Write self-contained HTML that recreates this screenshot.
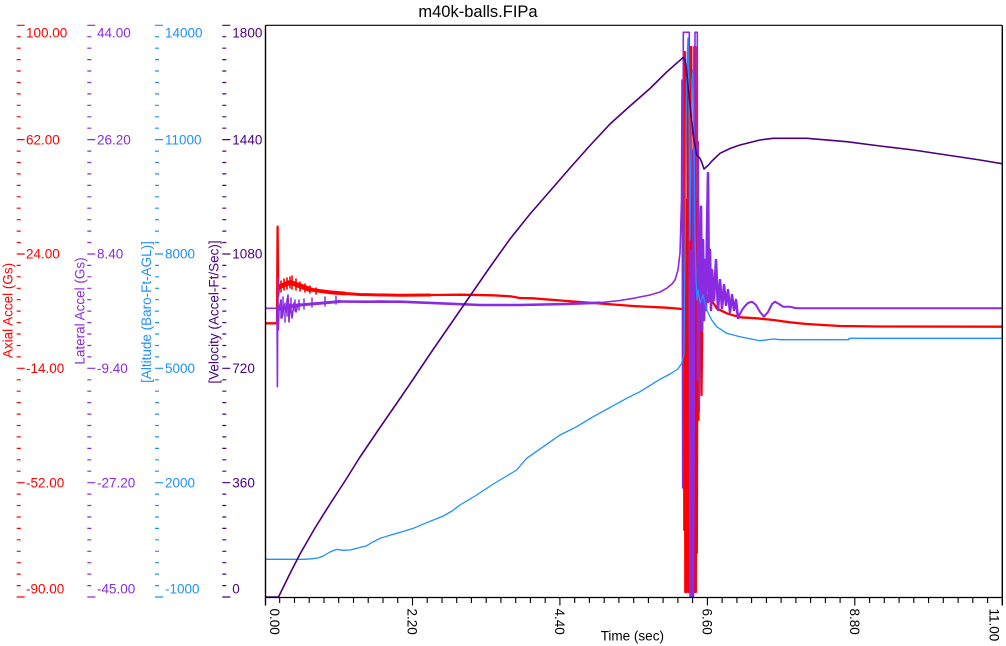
<!DOCTYPE html>
<html>
<head>
<meta charset="utf-8">
<style>
  html,body{margin:0;padding:0;background:#fff;}
  svg{display:block;}
  text{font-family:"Liberation Sans",Arial,sans-serif;}
</style>
</head>
<body>
<svg width="1006" height="646" viewBox="0 0 1006 646" xmlns="http://www.w3.org/2000/svg">
  <defs>
    <g id="yt" fill="none" stroke="currentColor" stroke-width="1.2">
      <path d="M0 25.3h8M0 139.6h8M0 254h8M0 368.3h8M0 482.7h8M0 597h8"/>
      <path d="M0 36.7h4M0 48.2h4M0 59.6h4M0 71h4M0 82.5h4M0 93.9h4M0 105.3h4M0 116.8h4M0 128.2h4M0 151.1h4M0 162.5h4M0 173.9h4M0 185.4h4M0 196.8h4M0 208.2h4M0 219.7h4M0 231.1h4M0 242.5h4M0 265.4h4M0 276.8h4M0 288.3h4M0 299.7h4M0 311.1h4M0 322.6h4M0 334h4M0 345.5h4M0 356.9h4M0 379.8h4M0 391.2h4M0 402.6h4M0 414.1h4M0 425.5h4M0 436.9h4M0 448.4h4M0 459.8h4M0 471.2h4M0 494.1h4M0 505.5h4M0 517h4M0 528.4h4M0 539.8h4M0 551.3h4M0 562.7h4M0 574.1h4M0 585.6h4"/>
    </g>
    <clipPath id="pc"><rect x="266" y="25.8" width="736" height="571.7"/></clipPath>
  </defs>
  <rect width="1006" height="646" fill="#fff"/>

  <!-- Title -->
  <text x="478" y="17" font-size="16.5" text-anchor="middle" fill="#000">m40k-balls.FIPa</text>

  <!-- Left axes ticks -->
  <use href="#yt" x="16.7" y="0" style="color:#ff0000"/>
  <use href="#yt" x="87.3" y="0" style="color:#8a2be2"/>
  <use href="#yt" x="155" y="0" style="color:#1e90ff"/>
  <use href="#yt" x="222.3" y="0" style="color:#4b0082"/>

  <!-- Axial labels -->
  <g font-size="13.5" fill="#ff0000">
    <text x="26" y="37.3">100.00</text>
    <text x="26" y="144.3">62.00</text>
    <text x="26" y="258.6">24.00</text>
    <text x="26" y="372.9">-14.00</text>
    <text x="26" y="487.3">-52.00</text>
    <text x="26" y="593.3">-90.00</text>
    <text transform="translate(12.3,310.5) rotate(-90)" text-anchor="middle">Axial Accel (Gs)</text>
  </g>
  <g font-size="13.5" fill="#8a2be2">
    <text x="97" y="37.3">44.00</text>
    <text x="97" y="144.3">26.20</text>
    <text x="97" y="258.6">8.40</text>
    <text x="97" y="372.9">-9.40</text>
    <text x="97" y="487.3">-27.20</text>
    <text x="97" y="593.3">-45.00</text>
    <text transform="translate(84.3,311) rotate(-90)" text-anchor="middle">Lateral Accel (Gs)</text>
  </g>
  <g font-size="13.5" fill="#1e90ff">
    <text x="165" y="37.3">14000</text>
    <text x="165" y="144.3">11000</text>
    <text x="165" y="258.6">8000</text>
    <text x="165" y="372.9">5000</text>
    <text x="165" y="487.3">2000</text>
    <text x="165" y="593.3">-1000</text>
    <text transform="translate(151,312) rotate(-90)" text-anchor="middle">[Altitude (Baro-Ft-AGL)]</text>
  </g>
  <g font-size="13.5" fill="#4b0082">
    <text x="232.3" y="37.3">1800</text>
    <text x="232.3" y="144.3">1440</text>
    <text x="232.3" y="258.6">1080</text>
    <text x="232.3" y="372.9">720</text>
    <text x="232.3" y="487.3">360</text>
    <text x="232.3" y="593.3">0</text>
    <text transform="translate(218.5,312) rotate(-90)" text-anchor="middle">[Velocity (Accel-Ft/Sec)]</text>
  </g>

  <!-- X ticks -->
  <path fill="none" stroke="#000" stroke-width="1.1" d="M279.7 597.5v5.5M294.5 597.5v5.5M309.2 597.5v5.5M324 597.5v5.5M338.7 597.5v5.5M353.5 597.5v5.5M368.2 597.5v5.5M383 597.5v5.5M397.7 597.5v5.5M427.2 597.5v5.5M442 597.5v5.5M456.7 597.5v5.5M471.4 597.5v5.5M486.2 597.5v5.5M500.9 597.5v5.5M515.7 597.5v5.5M530.4 597.5v5.5M545.2 597.5v5.5M574.7 597.5v5.5M589.4 597.5v5.5M604.2 597.5v5.5M618.9 597.5v5.5M633.7 597.5v5.5M648.4 597.5v5.5M663.1 597.5v5.5M677.9 597.5v5.5M692.6 597.5v5.5M722.1 597.5v5.5M736.9 597.5v5.5M751.6 597.5v5.5M766.4 597.5v5.5M781.1 597.5v5.5M795.9 597.5v5.5M810.6 597.5v5.5M825.4 597.5v5.5M840.1 597.5v5.5M869.6 597.5v5.5M884.3 597.5v5.5M899.1 597.5v5.5M913.8 597.5v5.5M928.6 597.5v5.5M943.3 597.5v5.5M958.1 597.5v5.5M972.8 597.5v5.5M987.6 597.5v5.5"/>
  <path fill="none" stroke="#000" stroke-width="1.1" d="M412.5 597.5v8M559.9 597.5v8M707.4 597.5v8M854.8 597.5v8"/>

  <!-- X labels -->
  <g font-size="13.5" fill="#000">
    <text transform="translate(270.2,608.5) rotate(90)">0.00</text>
    <text transform="translate(407.6,608.5) rotate(90)">2.20</text>
    <text transform="translate(555,608.5) rotate(90)">4.40</text>
    <text transform="translate(702.5,608.5) rotate(90)">6.60</text>
    <text transform="translate(850,608.5) rotate(90)">8.80</text>
    <text transform="translate(989.5,608.5) rotate(90)">11.00</text>
    <text x="600.7" y="640.5">Time (sec)</text>
  </g>

  <!-- Data -->
  <g clip-path="url(#pc)" fill="none" stroke-linejoin="round" stroke-linecap="round">
    <!-- Axial accel (red) -->
    <g stroke="#ff0000">
      <polyline stroke-width="5" points="279,287 285,284.5 290,282.5 295,284 303,287 310,289.5"/>
      <polyline stroke-width="3.8" points="310,289.5 320,291 330,292.3 345,293.5"/>
      <polyline stroke-width="3" points="345,293.5 360,294.5 400,295.3 430,295"/>
      <path stroke-width="1.6" d="M281,281 L281,292 M284,279 L284,290 M287,278 L287,289 M290,277 L290,288 M292,276 L292,289 M296,279 L296,290 M300,282 L300,291 M305,284 L305,292 M310,286 L310,293 M316,288 L316,294"/>
      <path stroke-width="2.3" d="M265.7,323.3 L277,323.3 L277.6,226.7 L278.2,296 L279,287 L285,284.5 L290,282 L295,284 L303,287 L310,289.5 L320,291 L330,292.3 L345,293.5 L360,294.5 L400,295.3 L430,295 L460,294.7 L493.3,295.3 L510,296.3 L520,298 L533,298.3 L566.7,301 L600,303.5 L633,306 L666.7,307.7 L682.5,309 L683.3,309 L683.8,120 L684.3,530 L684.8,52 L685.3,592 L686.5,592 L686.8,200 L687.3,560 L687.8,52 L688.3,440 L688.8,592 L689.3,300 L689.8,592 L690.3,47 L690.8,592 L691.3,47 L691.8,500 L692.3,400 L692.8,592 L693.3,300 L693.8,550 L694.3,47 L694.8,592 L695.3,47 L695.8,592 L696.3,200 L696.8,553 L697.3,330 L698,250 L698.5,420 L699,280 L700,350 L700.5,290 L701.5,395 L702.5,300 L703.3,320 L704.5,296 L706.7,295 L708,302 L710,298 L713.3,303 L716.7,308.3 L726.7,313.3 L740,317.3 L756.7,318.3 L773.3,320 L790,322.3 L806.7,324 L840,326 L880,326.5 L1002,326.7"/>
    </g>
    <!-- Lateral accel (purple) -->
    <g stroke="#8a2be2">
      <polyline stroke-width="3.5" points="279,309 285,308 292,306 300,305"/>
      <polyline stroke-width="3" points="300,305 320,303.3 340,301.5"/>
      <polyline stroke-width="2.6" points="340,301.5 360,301.7 400,301.7 440,303.3 480,305 520,305 566.7,304 600,302.7"/>
      <path stroke-width="1.5" d="M281,300 L281,318 M283,297 L283,315 M285,303 L285,322 M287,299 L287,316 M291,298 L291,313 M295,300 L295,311 M299,300 L299,310 M304,299 L304,309 M312,298 L312,307 M325,297 L325,306 M336,296 L336,304"/>
      <path stroke-width="2.6" d="M700,250 L701,206.7 L702,330 L703,240 L704,320 L705,260 L706,310 L707,230 L708,173 L709,300 L710,250 L711,310 L712,270 L714,300 L716,260 L718,310 L720,280 L722,308 L724,285 L726,305 L728,290 L730,312 L732,295 L734,310 L736,300 L738,318"/>
      <path stroke-width="2" d="M738,318 L740,314 L742,310 L745,306 L748,303 L752,301.7 L756,305 L760,312 L764,316.7 L768,312 L772,304 L775,301.7 L779,304 L783,306.7 L790,306.7 L795,308 L800,308.3 L1002,308.3"/>
      <path stroke-width="1.6" d="M265.7,308.3 L277,308.3 L277.4,386.7 L277.8,278.3 L278.4,330 L279,309 L281,300 L282,318 L284,305 L286,312 L288,295 L289,322 L290,304 L292,318 L294,303 L296,312 L298,304 L300,305 L320,303.3 L340,301.5 L360,301.7 L380,301 L400,301.7 L440,303.3 L480,305 L520,305 L533,305 L566.7,304 L600,302.7 L620,300.5 L633.3,298.3 L650,295 L660,292 L666.7,288.3 L672,284 L675,280 L678,270 L680,253 L681.5,200 L682,80 L682.7,488 L683.3,32.3 L689.3,32.3 L689.3,300 L690,600 L691,250 L691.7,600 L692.5,600 L693,150 L693.5,600 L694.3,400 L695,32.3 L697.3,32.3 L697.5,380 L698.3,141.7 L699.3,411.7 L700,250"/>
    </g>
    <!-- Altitude (blue) -->
    <path stroke="#1e90ff" stroke-width="1.3" d="M265.7,559.3 L305,559.3 L312,558.7 L318,558 L323.3,556 L330,552 L336.7,549.3 L343,550.3 L350,550 L358,548 L366.7,545.7 L372,542.5 L380,538.3 L393.3,534.3 L403,531.5 L413.3,528.3 L426.7,522.7 L443.3,516 L452,511 L460,505 L476.7,495 L493.3,484 L505,477 L516.7,470 L520,466 L526.7,458.3 L543.3,446.7 L560,435 L576.7,426.7 L593.3,416.7 L606.7,409.3 L626.7,398.3 L640,391.7 L660,379.3 L670,374 L678,369 L681.7,363.3 L684,355 L685,250 L686,120 L687,60 L688,38 L689,100 L690,240 L691,150 L692,80 L693,70 L694,150 L695,230 L696,280 L697,300 L698,290 L700,303 L703,295 L706.7,310 L711.7,320 L716.7,326.7 L726.7,333.3 L740,336.7 L760,340.7 L773.3,339 L780,339.7 L849,339.7 L849,338.3 L1002,338.3"/>
    <!-- Velocity (indigo) -->
    <path stroke="#4b0082" stroke-width="1.6" d="M265.7,597 L278.5,597 L290,573.5 L300,554 L315,528 L330,504 L345,481 L360,457 L380,427.5 L400,398.5 L412.3,380.5 L430,354 L450,325 L470,296 L490,267 L510,239 L530,214 L550,191 L570,168 L590,145.5 L610,124 L630,106 L650,88.5 L666.7,72 L683.3,57.3 L685,60 L686.7,73 L689,95 L691.7,120 L694,140 L696.7,155 L700,158.3 L702,163 L704,169 L708,165.5 L712,161 L720,153.3 L730,148.5 L740,145 L760,140 L773,138.3 L807,138.3 L846.7,141.7 L880,146 L913.3,150 L946.7,155 L980,160 L1002,163.7"/>
  </g>

  <!-- Frame -->
  <g stroke="#000" fill="none">
    <line x1="265.5" y1="25.3" x2="1002.3" y2="25.3" stroke-width="1.2"/>
    <line x1="265.5" y1="597.5" x2="1002.3" y2="597.5" stroke-width="1.2"/>
    <line x1="265.5" y1="25.3" x2="265.5" y2="605.5" stroke-width="1.4"/>
    <line x1="1002.3" y1="25.3" x2="1002.3" y2="605.5" stroke-width="1.4"/>
  </g>
</svg>
</body>
</html>
